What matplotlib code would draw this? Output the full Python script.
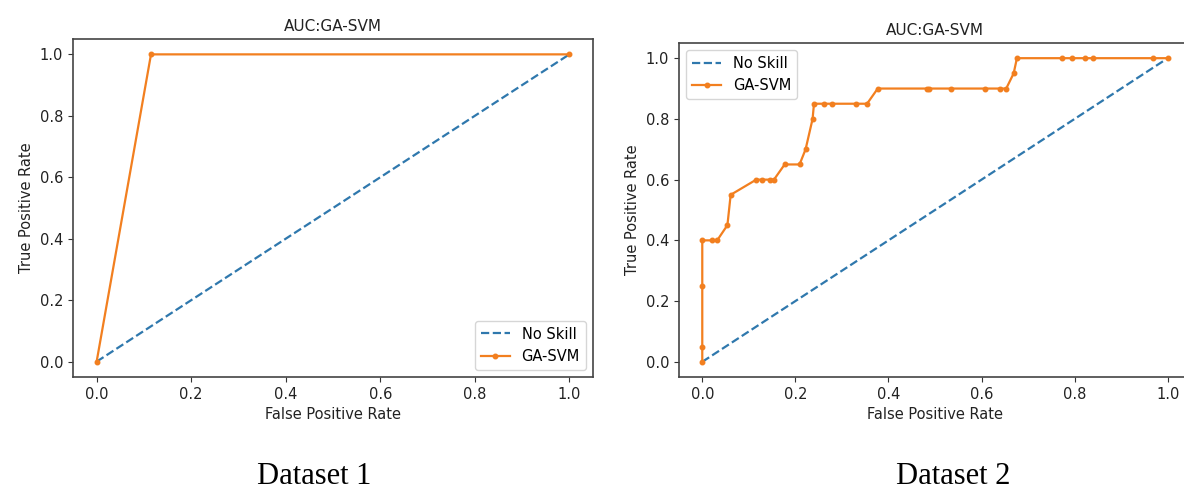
import matplotlib
matplotlib.use('Agg')
import matplotlib.pyplot as plt

# dataset 1 roc
fpr1 = [0.0, 0.115, 1.0]
tpr1 = [0.0, 1.0, 1.0]

# dataset 2 roc
fpr2 = [0.0, 0.0, 0.0, 0.0, 0.021, 0.032, 0.054, 0.061, 0.116, 0.129, 0.145, 0.154,
        0.177, 0.209, 0.222, 0.237, 0.240, 0.262, 0.279, 0.330, 0.354, 0.377,
        0.483, 0.488, 0.534, 0.608, 0.640, 0.653, 0.669, 0.676, 0.773, 0.794,
        0.823, 0.839, 0.969, 1.0]
tpr2 = [0.0, 0.05, 0.25, 0.40, 0.40, 0.40, 0.45, 0.55, 0.60, 0.60, 0.60, 0.60,
        0.65, 0.65, 0.70, 0.80, 0.85, 0.85, 0.85, 0.85, 0.85, 0.90,
        0.90, 0.90, 0.90, 0.90, 0.90, 0.90, 0.95, 1.0, 1.0, 1.0,
        1.0, 1.0, 1.0, 1.0]

no_skill = [0, 1]
ticks = [0.0, 0.2, 0.4, 0.6, 0.8, 1.0]

W, H = 1184, 493
fig = plt.figure(figsize=(W / 100, H / 100), dpi=100)

# axes boxes in pixels: left, top, right, bottom
boxes = [(73, 39, 593, 377), (679, 43, 1191, 377)]
data = [(fpr1, tpr1, 'lower right', 'Dataset 1', 314),
        (fpr2, tpr2, 'upper left', 'Dataset 2', 953)]

for (l, t, r, b), (fx, ty, loc, name, cx) in zip(boxes, data):
    ax = fig.add_axes([l / W, 1 - b / H, (r - l) / W, (b - t) / H])
    ax.plot(no_skill, no_skill, linestyle='--', lw=1.6, color='#2f78ad', label='No Skill')
    ax.plot(fx, ty, marker='.', lw=1.6, ms=6.5, color='#f27f1f', label='GA-SVM')
    ax.set_xlim(-0.05, 1.05)
    ax.set_ylim(-0.05, 1.05)
    ax.set_xticks(ticks)
    ax.set_yticks(ticks)
    ax.tick_params(labelsize=10.5, color='#333333', labelcolor='#222222')
    for s in ax.spines.values():
        s.set_color('#444444')
        s.set_linewidth(1.2)
    ax.set_xlabel('False Positive Rate', fontsize=10.5, color='#222222')
    ax.set_ylabel('True Positive Rate', fontsize=10.5, color='#222222')
    ax.set_title('AUC:GA-SVM', fontsize=11, color='#222222')
    ax.legend(loc=loc, fontsize=10.5)
    fig.text(cx / W, 1 - 476 / H, name, ha='center', va='center',
             fontsize=22, family='Liberation Serif')

fig.savefig('out.png', dpi=100)
